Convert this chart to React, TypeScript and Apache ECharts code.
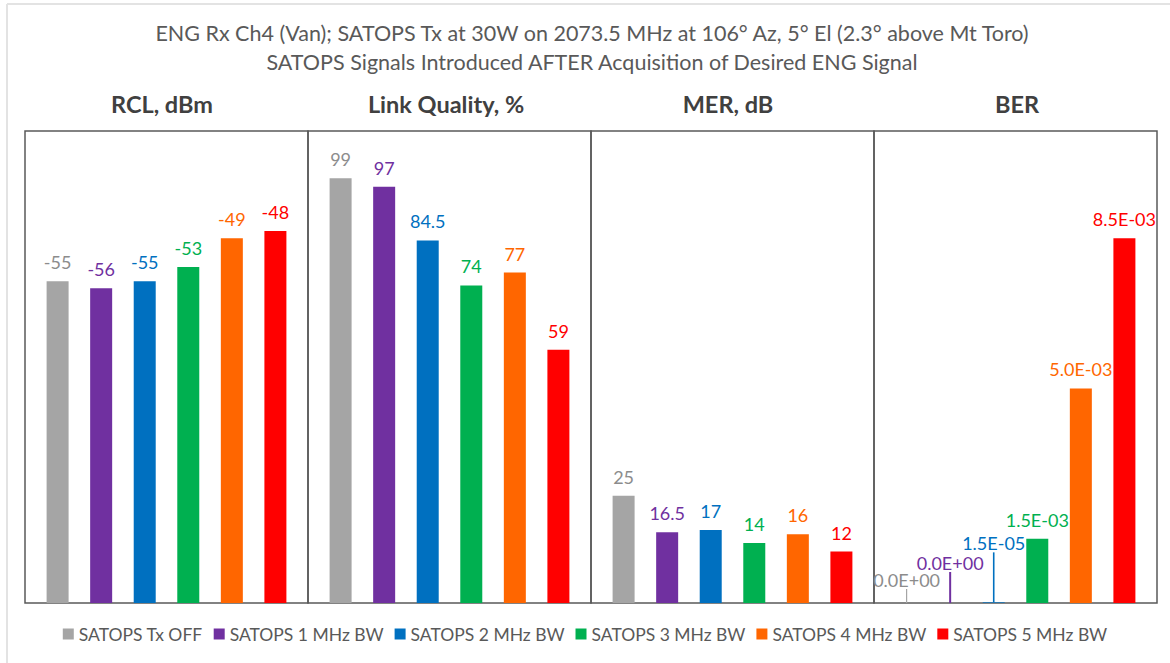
import React, { useEffect, useRef } from "react";
import * as echarts from "echarts";

const categories = [
  "SATOPS Tx OFF",
  "SATOPS 1 MHz BW",
  "SATOPS 2 MHz BW",
  "SATOPS 3 MHz BW",
  "SATOPS 4 MHz BW",
  "SATOPS 5 MHz BW",
];
const panelTitles = ["RCL, dBm", "Link Quality, %", "MER, dB", "BER"];
const rclValues = [-55, -56, -55, -53, -49, -48];
const linkQualityValues = [99, 97, 84.5, 74, 77, 59];
const merValues = [25, 16.5, 17, 14, 16, 12];
const berValues = [0, 0, 0.000015, 0.0015, 0.005, 0.0085];
const titleLines = [
  "ENG Rx Ch4 (Van); SATOPS Tx at 30W on 2073.5 MHz at 106° Az, 5° El (2.3° above Mt Toro)",
  "SATOPS Signals Introduced AFTER Acquisition of Desired ENG Signal",
];

const barColors = ["#A5A5A5", "#7030A0", "#0070C0", "#00B050", "#FF6600", "#FF0000"];
const labelColors = ["#8C8C8C", "#7030A0", "#0070C0", "#00B050", "#FF6600", "#FF0000"];
const FONT = "Lato, 'Open Sans', sans-serif";

function sci(v: number): string {
  const [m, e] = v.toExponential(1).split("e");
  const sign = e[0];
  const digits = e.slice(1).padStart(2, "0");
  return `${m}E${sign}${digits}`;
}

export default function App() {
  const ref = useRef<HTMLDivElement>(null);
  useEffect(() => {
    if (!ref.current) return;
    const chart = echarts.init(ref.current, null, { renderer: "svg" });
    const panelValues = [rclValues, linkQualityValues, merValues, berValues];
    const yRanges = [
      { min: -100, max: -34, startValue: -100 },
      { min: 0, max: 110 },
      { min: 0, max: 110 },
      { min: 0, max: 0.011 },
    ];
    const gridLeft = 25;
    const gridW = 283;
    const gridTop = 131;
    const gridH = 472;
    const berDy = [-4, -21, -40, 0, 0, 0];
    const berLineW = [1.2, 2, 1.6, 1, 1, 1];

    const grids = panelValues.map((_, g) => ({
      left: gridLeft + g * gridW,
      top: gridTop,
      width: gridW,
      height: gridH,
      show: true,
      borderColor: "#595959",
      borderWidth: 1.5,
      backgroundColor: "transparent",
    }));
    const xAxes = panelValues.map((_, g) => ({
      type: "category",
      gridIndex: g,
      data: [panelTitles[g]],
      show: false,
    }));
    const yAxes = panelValues.map((_, g) => ({
      type: "value",
      gridIndex: g,
      show: false,
      ...yRanges[g],
    }));
    const series: any[] = [];
    panelValues.forEach((vals, g) => {
      vals.forEach((v, s) => {
        const isBer = g === 3;
        const moved = isBer && berDy[s] !== 0;
        series.push({
          type: "bar",
          name: categories[s],
          xAxisIndex: g,
          yAxisIndex: g,
          data: [v],
          barWidth: 22,
          barGap: "98%",
          itemStyle: { color: barColors[s] },
          label: {
            show: true,
            position: "top",
            distance: 10,
            color: labelColors[s],
            fontFamily: FONT,
            fontSize: 18,
            formatter: isBer ? (p: any) => sci(p.value) : (p: any) => String(p.value),
          },
          labelLayout: moved ? { dy: berDy[s] } : undefined,
          labelLine: moved
            ? { show: true, lineStyle: { color: barColors[s], width: berLineW[s] } }
            : undefined,
        });
      });
    });

    const panelTitleX = [162, 446, 728, 1017];
    const graphics: any[] = [
      {
        type: "line",
        shape: { x1: 7, y1: 4, x2: 7, y2: 663 },
        style: { stroke: "#e3e3e3", lineWidth: 2 },
      },
      {
        type: "line",
        shape: { x1: 7, y1: 4, x2: 1170, y2: 4 },
        style: { stroke: "#e3e3e3", lineWidth: 2 },
      },
      ...panelTitles.map((t, i) => ({
        type: "text",
        x: panelTitleX[i],
        y: 104,
        style: {
          text: t,
          fontFamily: FONT,
          fontSize: 23.5,
          fontWeight: "bold",
          fill: "#404040",
          align: "center",
          verticalAlign: "middle",
        },
      })),
      ...titleLines.map((t, i) => ({
        type: "text",
        x: 592,
        y: 33 + i * 29,
        style: {
          text: t,
          fontFamily: FONT,
          fontSize: 21.5,
          fill: "#595959",
          align: "center",
          verticalAlign: "middle",
        },
      })),
    ];

    chart.setOption({
      animation: false,
      backgroundColor: "#ffffff",
      legend: {
        data: categories,
        bottom: 15,
        left: "center",
        icon: "rect",
        itemWidth: 11,
        itemHeight: 11,
        itemGap: 11,
        textStyle: { color: "#595959", fontFamily: FONT, fontSize: 17.5 },
      },
      grid: grids,
      xAxis: xAxes,
      yAxis: yAxes,
      series,
      graphic: graphics,
    });
    return () => chart.dispose();
  }, []);
  return (
    <div
      ref={ref}
      style={{ position: "fixed", left: 0, top: 0, width: 1170, height: 663 }}
    />
  );
}
